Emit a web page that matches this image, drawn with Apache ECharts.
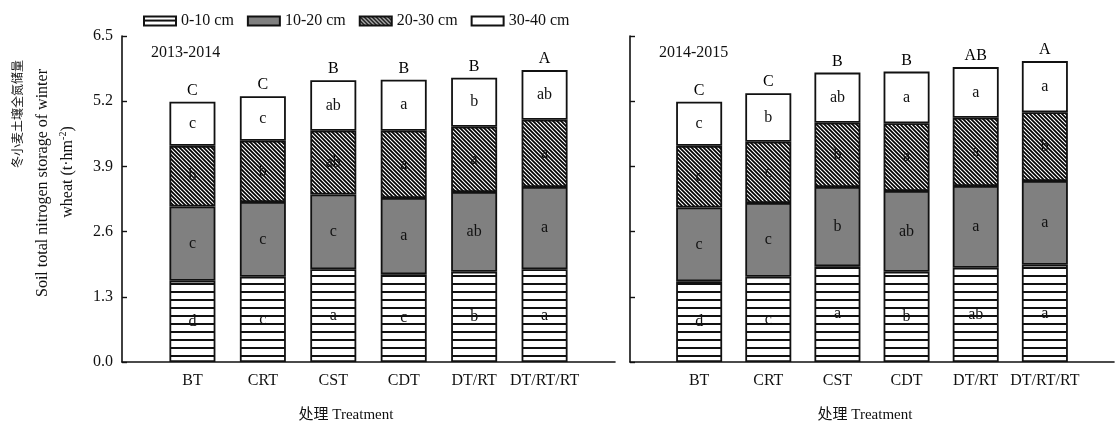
<!DOCTYPE html>
<html>
<head>
<meta charset="utf-8">
<script src="https://cdn.jsdelivr.net/npm/echarts@6/dist/echarts.min.js"></script>
<style>
  html, body { margin: 0; padding: 0; background: #fff; }
  #chart { width: 1117px; height: 433px; }
</style>
</head>
<body>
<div id="chart"></div>
<script>
// Treatments on the x axis
const categories = ['BT', 'CRT', 'CST', 'CDT', 'DT/RT', 'DT/RT/RT'];
// Soil layers (stack order, bottom to top)
const layers = ['0-10 cm', '10-20 cm', '20-30 cm', '30-40 cm'];
const yTicks = [0, 1.3, 2.6, 3.9, 5.2, 6.5];
const seasons = ['2013-2014', '2014-2015'];

// 2013-2014 nitrogen storage per layer (t·hm-2)
const s1_0_10  = [1.62, 1.70, 1.85, 1.75, 1.80, 1.85];
const s1_10_20 = [1.48, 1.49, 1.49, 1.52, 1.59, 1.64];
const s1_20_30 = [1.21, 1.22, 1.27, 1.34, 1.30, 1.34];
const s1_30_40 = [0.88, 0.89, 1.01, 1.02, 0.98, 0.99];
// 2014-2015 nitrogen storage per layer (t·hm-2)
const s2_0_10  = [1.61, 1.70, 1.91, 1.80, 1.88, 1.94];
const s2_10_20 = [1.47, 1.47, 1.58, 1.61, 1.63, 1.67];
const s2_20_30 = [1.23, 1.22, 1.28, 1.35, 1.36, 1.37];
const s2_30_40 = [0.88, 0.97, 1.00, 1.03, 1.01, 1.02];

// Significance letters per layer and for the totals
const l1_0_10  = ['d', 'c', 'a', 'c', 'b', 'a'];
const l1_10_20 = ['c', 'c', 'c', 'a', 'ab', 'a'];
const l1_20_30 = ['b', 'b', 'ab', 'a', 'a', 'a'];
const l1_30_40 = ['c', 'c', 'ab', 'a', 'b', 'ab'];
const l1_total = ['C', 'C', 'B', 'B', 'B', 'A'];
const l2_0_10  = ['d', 'c', 'a', 'b', 'ab', 'a'];
const l2_10_20 = ['c', 'c', 'b', 'ab', 'a', 'a'];
const l2_20_30 = ['c', 'c', 'b', 'a', 'a', 'b'];
const l2_30_40 = ['c', 'b', 'ab', 'a', 'a', 'a'];
const l2_total = ['C', 'C', 'B', 'B', 'AB', 'A'];

const FONT = '"Liberation Serif", "Times New Roman", "Noto Sans CJK SC", serif';

// The axis has an empty slot at each end so the treatments sit on ticks 1..6
const axisCats = [' '].concat(categories, ['  ']);
const pad = (arr) => ['-'].concat(arr, ['-']);

// Fill patterns for the layers
function stripeTile() {
  const c = document.createElement('canvas');
  c.width = 8; c.height = 8;
  const g = c.getContext('2d');
  g.fillStyle = '#fff'; g.fillRect(0, 0, 8, 8);
  g.fillStyle = '#111'; g.fillRect(0, 3, 8, 2);
  return c;
}
function hatchTile() {
  const s = 4;
  const c = document.createElement('canvas');
  c.width = s; c.height = s;
  const g = c.getContext('2d');
  g.fillStyle = '#fff'; g.fillRect(0, 0, s, s);
  g.strokeStyle = '#000'; g.lineWidth = 1.7;
  g.beginPath();
  g.moveTo(-1, -1); g.lineTo(s + 1, s + 1);
  g.moveTo(-1, s - 1); g.lineTo(1, s + 1);
  g.moveTo(s - 1, -1); g.lineTo(s + 1, 1);
  g.stroke();
  return c;
}
const fills = [
  { image: stripeTile(), repeat: 'repeat' },
  '#808080',
  { image: hatchTile(), repeat: 'repeat' },
  '#ffffff'
];

const panels = [
  { vals: [s1_0_10, s1_10_20, s1_20_30, s1_30_40], lets: [l1_0_10, l1_10_20, l1_20_30, l1_30_40], tot: l1_total },
  { vals: [s2_0_10, s2_10_20, s2_20_30, s2_30_40], lets: [l2_0_10, l2_10_20, l2_20_30, l2_30_40], tot: l2_total }
];

const series = [];
panels.forEach((p, pi) => {
  p.vals.forEach((arr, li) => {
    const letters = p.lets[li];
    series.push({
      type: 'bar',
      name: layers[li],
      xAxisIndex: pi, yAxisIndex: pi,
      stack: 'p' + pi,
      barWidth: 46,
      data: pad(arr),
      itemStyle: { color: fills[li], borderColor: '#111', borderWidth: 1.8 },
      label: {
        show: true, position: 'inside', color: '#111',
        fontFamily: FONT, fontSize: 16,
        formatter: (d) => letters[d.dataIndex - 1]
      },
      emphasis: { disabled: true },
      animation: false
    });
  });
  const totals = categories.map((_, i) => p.vals.reduce((s, a) => s + a[i], 0));
  series.push({
    type: 'scatter',
    name: 'total' + pi,
    xAxisIndex: pi, yAxisIndex: pi,
    symbolSize: 0,
    data: pad(totals),
    itemStyle: { color: '#000', opacity: 1 },
    label: {
      show: true, position: 'top', distance: 3, color: '#000', opacity: 1,
      fontFamily: FONT, fontSize: 16,
      formatter: (d) => p.tot[d.dataIndex - 1]
    },
    emphasis: { disabled: true },
    silent: true,
    animation: false
  });
});

function xAxis(gi) {
  return {
    type: 'category', gridIndex: gi, data: axisCats, boundaryGap: false,
    axisLine: { show: true, lineStyle: { color: '#111', width: 1.6 } },
    axisTick: { show: false },
    splitLine: { show: false },
    axisLabel: {
      margin: 11, color: '#111', fontFamily: FONT, fontSize: 16, interval: 0,
      formatter: (v) => v.trim()
    }
  };
}
function yAxis(gi, labels) {
  return {
    type: 'value', gridIndex: gi, min: yTicks[0], max: yTicks[yTicks.length - 1],
    interval: yTicks[1] - yTicks[0],
    axisLine: { show: true, lineStyle: { color: '#111', width: 1.6 } },
    axisTick: { show: true, inside: true, length: 5, lineStyle: { color: '#111', width: 1.4 } },
    splitLine: { show: false },
    axisLabel: {
      show: labels, margin: 9, color: '#111', fontFamily: FONT, fontSize: 16,
      formatter: (v) => v.toFixed(1)
    }
  };
}

const option = {
  backgroundColor: '#fff',
  animation: false,
  title: [
    { text: seasons[0], left: 146, top: 40, textStyle: { fontFamily: FONT, fontSize: 16, fontWeight: 'normal', color: '#111' } },
    { text: seasons[1], left: 654, top: 40, textStyle: { fontFamily: FONT, fontSize: 16, fontWeight: 'normal', color: '#111' } }
  ],
  legend: {
    data: layers,
    left: 138, top: 8,
    itemWidth: 32, itemHeight: 9, itemGap: 13,
    icon: 'rect',
    textStyle: { fontFamily: FONT, fontSize: 16, color: '#111' },
    selectedMode: false
  },
  grid: [
    { left: 122, width: 493, top: 36, height: 326 },
    { left: 630, width: 492, top: 36, height: 326 }
  ],
  xAxis: [xAxis(0), xAxis(1)],
  yAxis: [yAxis(0, true), yAxis(1, false)],
  graphic: [
    {
      type: 'text', x: 17, y: 114, rotation: Math.PI / 2,
      style: { text: '冬小麦土壤全氮储量', font: '12px "Noto Sans CJK SC", sans-serif', fill: '#111', align: 'center', verticalAlign: 'middle' }
    },
    {
      type: 'text', x: 43, y: 183, rotation: Math.PI / 2,
      style: { text: 'Soil total nitrogen storage of winter', font: '16px ' + FONT, fill: '#111', align: 'center', verticalAlign: 'middle' }
    },
    {
      type: 'text', x: 67, y: 172, rotation: Math.PI / 2,
      style: {
        text: '{n|wheat (t·hm}{s|-2}{n|)}',
        align: 'center', verticalAlign: 'middle',
        rich: {
          n: { fontFamily: FONT, fontSize: 16, fill: '#111', lineHeight: 18, verticalAlign: 'bottom' },
          s: { fontFamily: FONT, fontSize: 10, fill: '#111', lineHeight: 18, verticalAlign: 'top' }
        }
      }
    },
    {
      type: 'text', x: 346, y: 415,
      style: { text: '处理 Treatment', font: '15px ' + FONT, fill: '#111', align: 'center', verticalAlign: 'middle' }
    },
    {
      type: 'text', x: 865, y: 415,
      style: { text: '处理 Treatment', font: '15px ' + FONT, fill: '#111', align: 'center', verticalAlign: 'middle' }
    }
  ],
  series: series
};

const chart = echarts.init(document.getElementById('chart'), null, { renderer: 'canvas' });
chart.setOption(option);
</script>
</body>
</html>
